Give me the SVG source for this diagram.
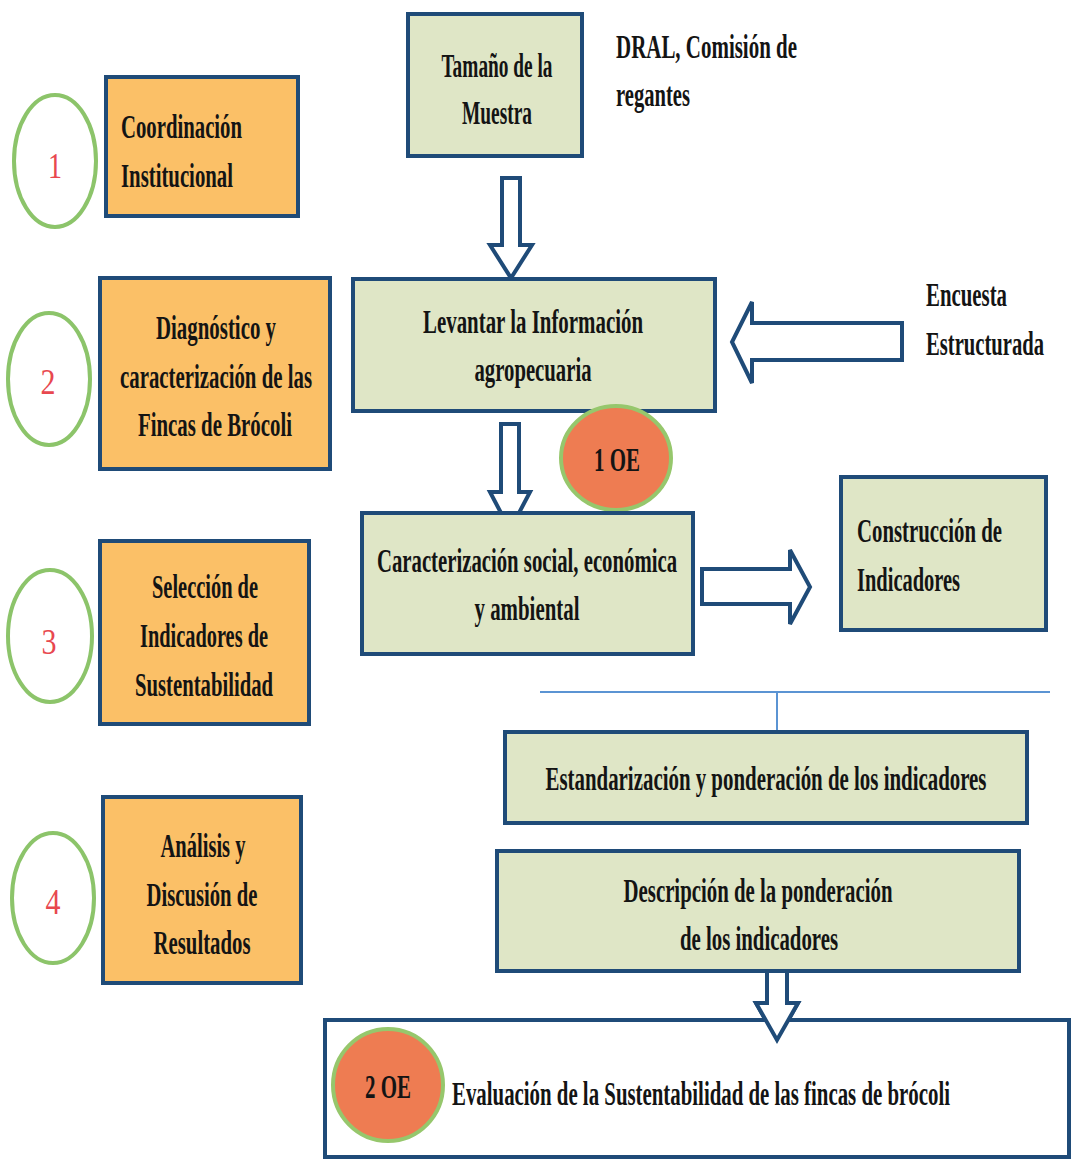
<svg xmlns="http://www.w3.org/2000/svg" width="1071" height="1159" viewBox="0 0 1071 1159">
<style>
.ob{fill:#fbc067;stroke:#1f4b78;stroke-width:4}
.gb{fill:#dfe6c6;stroke:#1f4b78;stroke-width:4}
.ring{fill:none;stroke:#8cc46a;stroke-width:4}
.oe{fill:#ee7c52;stroke:#96c76c;stroke-width:4}
.t{font-family:"Liberation Serif","Times New Roman",serif;font-weight:bold;font-size:34px;fill:#141414}
.n{font-family:"Liberation Serif","Times New Roman",serif;font-size:36px;fill:#e8484f}
.c{text-anchor:middle}
.arr{fill:#ffffff;stroke:#1f4b78;stroke-width:4;stroke-linejoin:miter}
.thin{fill:none;stroke:#5b94d3;stroke-width:2}
</style>
<rect width="1071" height="1159" fill="#ffffff"/>

<g id="connectors">
<polygon class="arr" points="502,178 520,178 520,245 532,245 511,278 490,245 502,245"/>
<polygon class="arr" points="501,424 519,424 519,492 530,492 510,530 490,492 501,492"/>
<polygon class="arr" points="902,323 902,360 752,360 752,383 732,342 752,302 752,323"/>
<polygon class="arr" points="702,569 790,569 790,550 810,587 790,624 790,604 702,604"/>
<polygon class="arr" points="767,967 787,967 787,1003 798,1003 777,1040 756,1003 767,1003"/>
<path class="thin" d="M540,692 H1050 M777,692 V733"/>
</g>

<g id="step1">
<ellipse class="ring" cx="55" cy="161" rx="41" ry="66"/>
<text class="n c" x="55" y="178" textLength="14" lengthAdjust="spacingAndGlyphs">1</text>
<rect class="ob" x="106" y="77" width="192" height="139"/>
<text class="t" x="121" y="138" textLength="121" lengthAdjust="spacingAndGlyphs">Coordinación</text>
<text class="t" x="121" y="187" textLength="112" lengthAdjust="spacingAndGlyphs">Institucional</text>
</g>

<g id="step2">
<ellipse class="ring" cx="49" cy="379" rx="41" ry="66"/>
<text class="n c" x="48" y="394" textLength="15" lengthAdjust="spacingAndGlyphs">2</text>
<rect class="ob" x="100" y="278" width="230" height="191"/>
<text class="t c" x="216" y="339" textLength="120" lengthAdjust="spacingAndGlyphs">Diagnóstico y</text>
<text class="t c" x="216" y="388" textLength="192" lengthAdjust="spacingAndGlyphs">caracterización de las</text>
<text class="t c" x="215" y="436" textLength="154" lengthAdjust="spacingAndGlyphs">Fincas de Brócoli</text>
</g>

<g id="step3">
<ellipse class="ring" cx="50" cy="636" rx="42" ry="66"/>
<text class="n c" x="49" y="654" textLength="15" lengthAdjust="spacingAndGlyphs">3</text>
<rect class="ob" x="100" y="541" width="209" height="183"/>
<text class="t c" x="205" y="598" textLength="106" lengthAdjust="spacingAndGlyphs">Selección de</text>
<text class="t c" x="204" y="647" textLength="128" lengthAdjust="spacingAndGlyphs">Indicadores de</text>
<text class="t c" x="204" y="696" textLength="138" lengthAdjust="spacingAndGlyphs">Sustentabilidad</text>
</g>

<g id="step4">
<ellipse class="ring" cx="53" cy="898" rx="41" ry="65"/>
<text class="n c" x="53" y="914" textLength="15" lengthAdjust="spacingAndGlyphs">4</text>
<rect class="ob" x="103" y="797" width="198" height="186"/>
<text class="t c" x="203" y="857" textLength="85" lengthAdjust="spacingAndGlyphs">Análisis y</text>
<text class="t c" x="202" y="906" textLength="111" lengthAdjust="spacingAndGlyphs">Discusión de</text>
<text class="t c" x="202" y="954" textLength="97" lengthAdjust="spacingAndGlyphs">Resultados</text>
</g>

<g id="muestra">
<rect class="gb" x="408" y="14" width="174" height="142"/>
<text class="t c" x="497" y="77" textLength="111" lengthAdjust="spacingAndGlyphs">Tamaño de la</text>
<text class="t c" x="497" y="124" textLength="70" lengthAdjust="spacingAndGlyphs">Muestra</text>
</g>

<g id="dral">
<text class="t" x="616" y="58" textLength="181" lengthAdjust="spacingAndGlyphs">DRAL, Comisión de</text>
<text class="t" x="616" y="106" textLength="74" lengthAdjust="spacingAndGlyphs">regantes</text>
</g>

<g id="levantar">
<rect class="gb" x="353" y="279" width="362" height="132"/>
<text class="t c" x="533" y="333" textLength="220" lengthAdjust="spacingAndGlyphs">Levantar la Información</text>
<text class="t c" x="533" y="381" textLength="117" lengthAdjust="spacingAndGlyphs">agropecuaria</text>
</g>

<g id="encuesta">
<text class="t" x="926" y="306" textLength="81" lengthAdjust="spacingAndGlyphs">Encuesta</text>
<text class="t" x="926" y="355" textLength="118" lengthAdjust="spacingAndGlyphs">Estructurada</text>
</g>

<g id="oe1">
<ellipse class="oe" cx="616" cy="458" rx="55" ry="52"/>
<text class="t c" x="617" y="471" textLength="46" lengthAdjust="spacingAndGlyphs">1 OE</text>
</g>

<g id="caracterizacion">
<rect class="gb" x="362" y="513" width="331" height="141"/>
<text class="t c" x="527" y="572" textLength="300" lengthAdjust="spacingAndGlyphs">Caracterización social, económica</text>
<text class="t c" x="527" y="620" textLength="105" lengthAdjust="spacingAndGlyphs">y ambiental</text>
</g>

<g id="construccion">
<rect class="gb" x="841" y="477" width="205" height="153"/>
<text class="t" x="857" y="542" textLength="145" lengthAdjust="spacingAndGlyphs">Construcción de</text>
<text class="t" x="857" y="591" textLength="103" lengthAdjust="spacingAndGlyphs">Indicadores</text>
</g>

<g id="estandarizacion">
<rect class="gb" x="505" y="732" width="522" height="91"/>
<text class="t c" x="766" y="790" textLength="441" lengthAdjust="spacingAndGlyphs">Estandarización y ponderación de los indicadores</text>
</g>

<g id="descripcion">
<rect class="gb" x="497" y="851" width="522" height="120"/>
<text class="t c" x="758" y="902" textLength="269" lengthAdjust="spacingAndGlyphs">Descripción de la ponderación</text>
<text class="t c" x="759" y="950" textLength="158" lengthAdjust="spacingAndGlyphs">de los indicadores</text>
</g>

<g id="evaluacion">
<rect x="325" y="1020" width="744" height="137" fill="#ffffff" stroke="#1f4b78" stroke-width="4"/>
<polygon points="767,1000 787,1000 787,1003 798,1003 777,1040 756,1003 767,1003" fill="#ffffff"/>
<path d="M767,1000 V1003 H756 L777,1040 L798,1003 H787 V1000" fill="none" stroke="#1f4b78" stroke-width="4"/>
<ellipse class="oe" cx="388" cy="1085" rx="55" ry="56"/>
<text class="t c" x="388" y="1098" textLength="46" lengthAdjust="spacingAndGlyphs">2 OE</text>
<text class="t" x="452" y="1105" textLength="498" lengthAdjust="spacingAndGlyphs">Evaluación de la Sustentabilidad de las fincas de brócoli</text>
</g>
</svg>
